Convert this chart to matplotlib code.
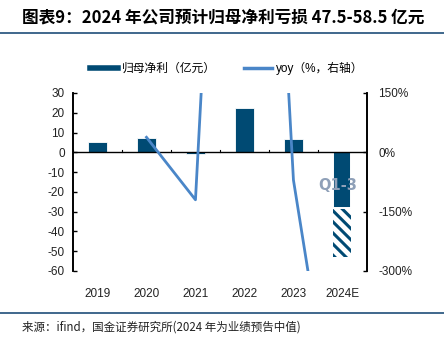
import numpy as np
import matplotlib
matplotlib.use("Agg")
import matplotlib.pyplot as plt
from matplotlib.lines import Line2D

plt.rcParams['font.family'] = ['Liberation Sans', 'Noto Sans CJK SC', 'DejaVu Sans']
plt.rcParams['hatch.linewidth'] = 2.2
plt.rcParams['axes.unicode_minus'] = False

# data
years = ["2019", "2020", "2021", "2022", "2023", "2024E"]
profit = [5.0, 7.4, -1.0, 22.4, 6.9]          # 归母净利 (亿元), 2019-2023
q1_3_2024 = -28.4                               # 2024 Q1-3 actual
full_2024 = -53.0                               # 2024 forecast median
yoy_years = ["2020", "2021", "2022", "2023", "2024E"]
yoy = [38, -120, 2200, -70, -846]               # yoy %, right axis

NAVY = "#004a73"
BLUE = "#4a86c8"
RULE = "#1f4e79"

fig = plt.figure(figsize=(4.44, 3.41), dpi=100)
ax = fig.add_axes([0.1644, 0.2053, 0.662, 0.522])
ax2 = ax.twinx()

x = np.arange(len(years))
w = 0.37
ax.bar(x[5], full_2024 - q1_3_2024, bottom=q1_3_2024, width=w, color="white",
       edgecolor=NAVY, linewidth=0, hatch="\\\\\\", zorder=2)
ax.bar(x[:5], profit, width=w, color=NAVY, edgecolor="white", linewidth=0.6, zorder=3)
ax.bar(x[5], q1_3_2024, width=w, color=NAVY, edgecolor="white", linewidth=1.4, zorder=3)
ax.text(x[5] - 0.1, -16.7, "Q1-3", ha="center", va="center", color="#8fa0b8",
        fontsize=10.5, fontweight="bold", family=["DejaVu Sans"], zorder=5)

ax.axhline(0, color="black", linewidth=1.0, zorder=4)
for b in np.arange(len(years) + 1) - 0.5:
    ax.plot([b, b], [0, 1.0], color="black", linewidth=0.8, zorder=4)

ax.set_xlim(-0.5, len(years) - 0.5)
ax.set_ylim(-60, 30)
ax.set_yticks(np.arange(-60, 31, 10))
ax2.set_ylim(-300, 150)
ax2.set_yticks([-300, -150, 0, 150])
ax2.set_yticklabels([f"{v}%" for v in [-300, -150, 0, 150]])

ax.set_xticks(x)
ax.set_xticklabels(years)
ax.tick_params(axis="x", length=0, pad=12, labelsize=8.5, colors="#222222")
ax.tick_params(axis="y", direction="in", length=3, width=1, pad=6, labelsize=8.5, labelcolor="#222222")
ax2.tick_params(axis="y", direction="in", length=3, width=1, pad=8, labelsize=8.5, labelcolor="#222222")

for a in (ax, ax2):
    a.spines["top"].set_visible(False)
    a.spines["bottom"].set_visible(False)
    a.spines["left"].set_linewidth(1.2)
    a.spines["right"].set_linewidth(1.2)
ax.set_zorder(ax2.get_zorder() + 1)
ax.patch.set_visible(False)

# yoy line on a hidden twin above the bars
yx = [years.index(y) for y in yoy_years]
ax3 = ax.twinx()
ax3.set_ylim(-300, 150)
ax3.axis("off")
ax3.plot(yx, yoy, color=BLUE, linewidth=2.0)

handles = [Line2D([], [], color=NAVY, linewidth=4),
           Line2D([], [], color=BLUE, linewidth=2.5)]
fig.legend(handles, ["归母净利（亿元）", "yoy（%，右轴）"], loc="center",
           bbox_to_anchor=(0.51, 0.80), ncol=2, frameon=False, fontsize=8.5,
           handlelength=2.4, handletextpad=0.3, columnspacing=2.4)

fig.text(0.05, 0.95, "图表9：2024 年公司预计归母净利亏损 47.5-58.5 亿元", ha="left", va="center",
         fontsize=12, fontweight="bold", fontstyle="italic",
         family=["Noto Sans CJK SC", "DejaVu Sans"], color="black")
fig.add_artist(Line2D([0, 1], [0.903, 0.903], color=RULE, linewidth=1.2))
fig.add_artist(Line2D([0, 1], [0.082, 0.082], color=RULE, linewidth=1.2))
fig.text(0.05, 0.04, "来源：ifind，国金证券研究所(2024 年为业绩预告中值)", ha="left", va="center",
         fontsize=8.3, family=["Noto Sans CJK SC", "DejaVu Sans"], color="#222222")

fig.savefig("out.png", dpi=100)
